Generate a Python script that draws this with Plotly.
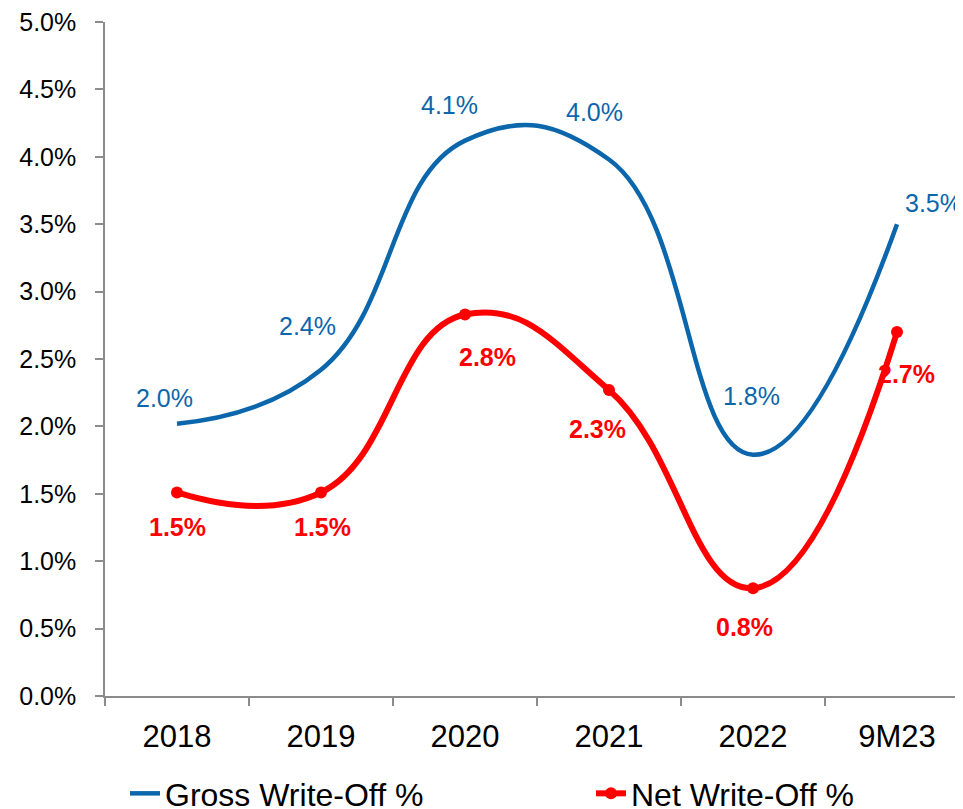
import plotly.graph_objects as go

categories = ["2018", "2019", "2020", "2021", "2022", "9M23"]
gross_writeoff = [2.02, 2.42, 4.12, 3.98, 1.79, 3.50]
net_writeoff = [1.51, 1.51, 2.83, 2.27, 0.80, 2.70]
y_ticks = [0.0, 0.5, 1.0, 1.5, 2.0, 2.5, 3.0, 3.5, 4.0, 4.5, 5.0]

BLUE = "#0B66AB"
RED = "#FF0000"
AXIS = "#8C8C8C"
FONT = "Liberation Sans, Arial, sans-serif"

# label offsets (pixels) - styling only
gross_off = [(-13, 26), (-14, 44), (-16, 36), (-15, 48), (-2, 59), (36, 21)]
net_off = [(0, -35), (1, -35), (22, -42), (-12, -39), (-9, -39), (9, -42)]

fig = go.Figure()
fig.add_trace(go.Scatter(
    x=categories, y=gross_writeoff, mode="lines", name="Gross Write-Off %",
    line=dict(color=BLUE, width=4.5, shape="spline", smoothing=1.3),
    hoverinfo="skip", legend="legend"))
fig.add_trace(go.Scatter(
    x=categories, y=net_writeoff, mode="lines+markers", name="Net Write-Off %",
    line=dict(color=RED, width=6, shape="spline", smoothing=1.3),
    marker=dict(color=RED, size=12),
    hoverinfo="skip", legend="legend2"))

for i, (v, (dx, dy)) in enumerate(zip(gross_writeoff, gross_off)):
    fig.add_annotation(x=i, y=v, text=f"{v:.1f}%", showarrow=False,
                       xshift=dx, yshift=dy,
                       font=dict(family=FONT, size=25, color=BLUE))
for i, (v, (dx, dy)) in enumerate(zip(net_writeoff, net_off)):
    fig.add_annotation(x=i, y=v, text=f"<b>{v:.1f}%</b>", showarrow=False,
                       xshift=dx, yshift=dy,
                       font=dict(family=FONT, size=25, color=RED))

legend_common = dict(orientation="h", xanchor="left", yanchor="middle",
                     xref="container", yref="container", y=0.029,
                     font=dict(family=FONT, size=32, color="black"),
                     bgcolor="rgba(0,0,0,0)")

fig.update_layout(
    width=963, height=809,
    margin=dict(l=97, r=4, t=14, b=121),
    paper_bgcolor="white", plot_bgcolor="white",
    font=dict(family=FONT, color="black"),
    showlegend=True,
    legend=dict(x=0.1215, **legend_common),
    legend2=dict(x=0.6054, **legend_common),
    xaxis=dict(
        type="category", range=[-0.5, 5.486], automargin=False,
        showgrid=False, zeroline=False,
        showline=True, linecolor=AXIS, linewidth=1.5,
        ticks="outside", tickson="boundaries", ticklen=8, tickcolor=AXIS, tickwidth=1.5,
        tickfont=dict(family=FONT, size=31, color="black"),
        ticklabelstandoff=12, ticklabeloverflow="allow",
    ),
    yaxis=dict(
        range=[0, 5.0], tickvals=y_ticks, ticktext=[f"{t:.1f}%" for t in y_ticks],
        automargin=False,
        showgrid=False, zeroline=False,
        showline=True, linecolor=AXIS, linewidth=1.5,
        ticks="outside", ticklen=8, tickcolor=AXIS, tickwidth=1.5,
        tickfont=dict(family=FONT, size=25, color="black"),
        ticklabelstandoff=14, ticklabeloverflow="allow",
    ),
)

fig.write_html("out.html")
